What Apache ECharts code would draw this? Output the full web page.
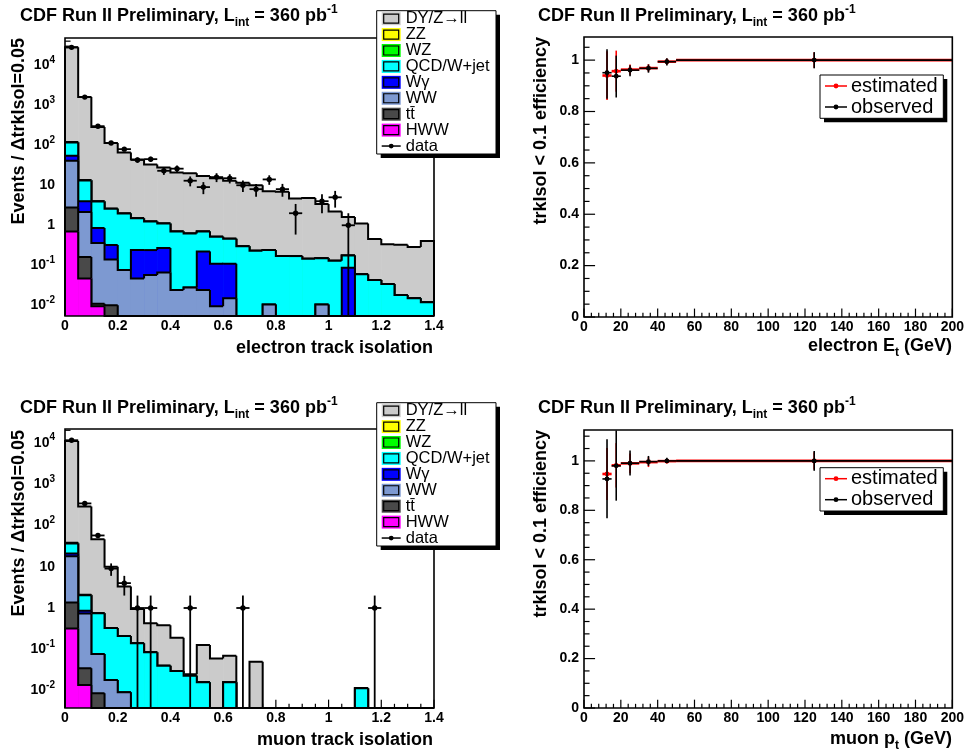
<!DOCTYPE html>
<html>
<head>
<meta charset="utf-8">
<title>CDF Run II track isolation</title>
<script src="https://cdn.jsdelivr.net/npm/echarts@6.0.0/dist/echarts.min.js"></script>
<style>
  html, body { margin: 0; padding: 0; background: #ffffff; }
  #chart { width: 967px; height: 756px; }
</style>
</head>
<body>
<div id="chart"></div>
<script>
const FONT = "'Liberation Sans', Arial, Helvetica, sans-serif";

// ---------- binning ----------
const isoEdges = [0, 0.05, 0.1, 0.15, 0.2, 0.25, 0.3, 0.35, 0.4, 0.45, 0.5, 0.55, 0.6, 0.65, 0.7,
  0.75, 0.8, 0.85, 0.9, 0.95, 1.0, 1.05, 1.1, 1.15, 1.2, 1.25, 1.3, 1.35, 1.4];
const etEdges = [10, 15, 20, 30, 40, 50, 200];

// ---------- stacked processes, bottom of the stack first ----------
const processNames  = ['HWW', 'tt\u0304', 'WW', 'W\u03b3', 'QCD/W+jet', 'WZ', 'ZZ', 'DY/Z\u2192ll'];
const processColors = ['#ff00ff', '#494949', '#7d99d1', '#0000ff', '#00ffff', '#00ff00', '#ffff00', '#cbcbcb'];

// electron track isolation: expected events per bin
const eleHWW = [0.70, 0.047, 0.0094, 0, 0, 0, 0, 0, 0, 0, 0, 0, 0, 0, 0, 0, 0, 0, 0, 0, 0, 0, 0, 0, 0, 0, 0, 0];
const eleTT  = [2.1, 0.113, 0.0016, 0.010, 0, 0, 0, 0, 0, 0, 0, 0, 0, 0, 0, 0, 0, 0, 0, 0, 0, 0, 0, 0, 0, 0, 0, 0];
const eleWW  = [38.2, 2.0, 0.349, 0.13, 0.076, 0.047, 0.057, 0.066, 0.024, 0.028, 0.024, 0.0094, 0.015, 0,
  0, 0.0104, 0, 0, 0, 0.0104, 0, 0, 0, 0, 0, 0, 0, 0];
const eleWgamma = [14, 1.84, 0.50, 0.18, 0, 0.193, 0.183, 0.204, 0, 0, 0.196, 0.10, 0.095, 0,
  0, 0, 0, 0, 0, 0, 0, 0.087, 0, 0, 0, 0, 0, 0];
const eleQCD = [62, 9.2, 3.05, 2.28, 1.884, 1.26, 1.01, 0.83, 0.676, 0.592, 0.48, 0.41, 0.35, 0.30,
  0.23, 0.23, 0.17, 0.17, 0.145, 0.14, 0.13, 0.088, 0.06, 0.043, 0.034, 0.018, 0.015, 0.012];
const eleWZ  = [1.2, 0.1, 0.04, 0, 0, 0, 0, 0, 0, 0, 0, 0, 0, 0, 0, 0, 0, 0, 0, 0, 0, 0, 0, 0, 0, 0, 0, 0];
const eleZZ  = [1.8, 0.2, 0.05, 0, 0, 0, 0, 0, 0, 0, 0, 0, 0, 0, 0, 0, 0, 0, 0, 0, 0, 0, 0, 0, 0, 0, 0, 0];
const eleDY  = [27880, 1586, 281, 111.4, 64, 42.5, 31.8, 26.9, 20.3, 19.4, 16.3, 14.5, 12.5, 11.2,
  9.77, 6.86, 6.73, 4.53, 4.66, 3.25, 2.07, 1.43, 1.04, 0.41, 0.30, 0.31, 0.27, 0.39];
const eleData = [28000, 1600, 300, 114, 80, 43, 45, 23, 26, 13, 9, 16, 15, 10,
  8, 14, 8, 2, 0, 4, 5, 1, 0, 0, 0, 0, 0, 0];

// muon track isolation: expected events per bin
const muHWW = [0.32, 0.0137, 0, 0, 0, 0, 0, 0, 0, 0, 0, 0, 0, 0, 0, 0, 0, 0, 0, 0, 0, 0, 0, 0, 0, 0, 0, 0];
const muTT  = [1.04, 0.0213, 0.0087, 0, 0, 0, 0, 0, 0, 0, 0, 0, 0, 0, 0, 0, 0, 0, 0, 0, 0, 0, 0, 0, 0, 0, 0, 0];
const muWW  = [16.6, 0.705, 0.068, 0.018, 0.0091, 0, 0, 0, 0, 0, 0, 0, 0, 0, 0, 0, 0, 0, 0, 0, 0, 0, 0, 0, 0, 0, 0, 0];
const muWgamma = [3.0, 0.12, 0, 0, 0, 0, 0, 0, 0, 0, 0, 0, 0, 0, 0, 0, 0, 0, 0, 0, 0, 0, 0, 0, 0, 0, 0, 0];
const muQCD = [15.5, 1.18, 0.673, 0.312, 0.201, 0.14, 0.085, 0.040, 0.030, 0.023, 0.016, 0, 0.016, 0,
  0, 0, 0, 0, 0, 0, 0, 0, 0.0114, 0, 0, 0, 0, 0];
const muWZ  = [0.7, 0.02, 0, 0, 0, 0, 0, 0, 0, 0, 0, 0, 0, 0, 0, 0, 0, 0, 0, 0, 0, 0, 0, 0, 0, 0, 0, 0];
const muZZ  = [0.8, 0.04, 0, 0, 0, 0, 0, 0, 0, 0, 0, 0, 0, 0, 0, 0, 0, 0, 0, 0, 0, 0, 0, 0, 0, 0, 0, 0];
const muDY  = [10962, 282.9, 45.25, 9.57, 3.09, 0.80, 0.345, 0.34, 0.16, 0.002, 0.111, 0.06, 0.054, 0,
  0.05, 0, 0, 0, 0, 0, 0, 0, 0, 0, 0, 0, 0, 0];
const muData = [11500, 340, 57, 9, 4, 1, 1, 0, 0, 1, 0, 0, 0, 1,
  0, 0, 0, 0, 0, 0, 0, 0, 0, 1, 0, 0, 0, 0];

// ---------- efficiency of trkIsol < 0.1 vs lepton transverse energy/momentum ----------
const eleEffEst    = [0.940, 0.957, 0.963, 0.969, 0.994, 1.0];
const eleEffEstErr = [0.095, 0.080, 0.020, 0.015, 0.012, 0.030];
const eleEffObs    = [0.951, 0.9375, 0.961, 0.968, 0.994, 1.0];
const eleEffObsLo  = [0.101, 0.083, 0.024, 0.017, 0.015, 0.032];
const eleEffObsHi  = [0.091, 0.080, 0.019, 0.015, 0.013, 0.031];

const muEffEst    = [0.947, 0.982, 0.990, 0.995, 0.999, 1.0];
const muEffEstErr = [0.105, 0.090, 0.040, 0.020, 0.010, 0.035];
const muEffObs    = [0.927, 0.980, 0.9905, 0.997, 1.0, 1.0];
const muEffObsLo  = [0.159, 0.141, 0.050, 0.017, 0.007, 0.040];
const muEffObsHi  = [0.161, 0.143, 0.052, 0.023, 0.013, 0.040];

// ---------- axis ranges and labels ----------
const eleYRange = [0.0054, 48000];
const muYRange  = [0.0038, 21500];
const isoXRange = [0, 1.4];
const etXRange  = [0, 200];
const eleEffYRange = [0, 1.09];
const muEffYRange  = [0, 1.125];

const titleText = 'CDF Run II Preliminary, L{sub|int} = 360 pb{sup|-1}';
const isoYTitle = 'Events / \u0394trkIsol=0.05';
const effYTitle = 'trkIsol < 0.1 efficiency';
const xTitles = ['electron track isolation', 'muon track isolation', 'electron E{sub|t} (GeV)', 'muon p{sub|t} (GeV)'];
const effLegend = ['estimated', 'observed'];

// ---------- layout ----------
const grids = [
  { left: 65,  top: 38,  width: 369, height: 278 },
  { left: 65,  top: 429, width: 369, height: 279 },
  { left: 584, top: 37,  width: 369, height: 280 },
  { left: 584, top: 430, width: 369, height: 278 }
];

const labelStyle = (margin) => ({
  margin, color: '#000', fontFamily: FONT, fontSize: 14, fontWeight: 'bold'
});
const hidden = { show: false };

function logLabel(v) {
  const e = Math.log10(v), r = Math.round(e);
  if (Math.abs(e - r) > 1e-6) return '';
  if (r === 0) return '1';
  if (r === 1) return '10';
  return '10{e|' + r + '}';
}
function effLabel(v) {
  const r = v / 0.2;
  if (Math.abs(r - Math.round(r)) > 1e-6) return '';
  return String(+v.toFixed(1));
}

const xAxis = [
  { type: 'value', gridIndex: 0, min: isoXRange[0], max: isoXRange[1], interval: 0.2 },
  { type: 'value', gridIndex: 1, min: isoXRange[0], max: isoXRange[1], interval: 0.2 },
  { type: 'value', gridIndex: 2, min: etXRange[0], max: etXRange[1], interval: 20 },
  { type: 'value', gridIndex: 3, min: etXRange[0], max: etXRange[1], interval: 20 }
].map(a => Object.assign(a, { axisLine: hidden, axisTick: hidden, splitLine: hidden, axisLabel: labelStyle(3) }));

const logRich = { e: { fontFamily: FONT, fontSize: 10, fontWeight: 'bold', color: '#000', verticalAlign: 'top', lineHeight: 9 } };
const yAxis = [
  { type: 'log', logBase: 10, gridIndex: 0, min: eleYRange[0], max: eleYRange[1],
    axisLabel: Object.assign(labelStyle(10), { formatter: logLabel, lineHeight: 20, rich: logRich }) },
  { type: 'log', logBase: 10, gridIndex: 1, min: muYRange[0], max: muYRange[1],
    axisLabel: Object.assign(labelStyle(10), { formatter: logLabel, lineHeight: 20, rich: logRich }) },
  { type: 'value', gridIndex: 2, min: eleEffYRange[0], max: eleEffYRange[1], interval: 0.2,
    axisLabel: Object.assign(labelStyle(5), { formatter: effLabel }) },
  { type: 'value', gridIndex: 3, min: muEffYRange[0], max: muEffYRange[1], interval: 0.2,
    axisLabel: Object.assign(labelStyle(5), { formatter: effLabel }) }
].map(a => Object.assign(a, { axisLine: hidden, axisTick: hidden, splitLine: hidden }));

// ---------- helpers ----------
function cumulate(layers) {
  const out = [];
  let run = layers[0].map(() => 0);
  layers.forEach(layer => { run = run.map((v, i) => v + layer[i]); out.push(run); });
  return out;
}

function linearTicks(min, max, minorStep, majorStep) {
  const out = [];
  const n = Math.floor((max - min) / minorStep + 1e-6);
  for (let i = 0; i <= n; i++) {
    const v = +(min + i * minorStep).toFixed(6);
    const r = v / majorStep;
    out.push([v, Math.abs(r - Math.round(r)) < 1e-6]);
  }
  return out;
}
function logTicks(min, max) {
  const out = [];
  for (let k = Math.floor(Math.log10(min)); k <= Math.ceil(Math.log10(max)); k++) {
    for (let m = 1; m <= 9; m++) {
      const v = m * Math.pow(10, k);
      if (v >= min && v <= max) out.push([v, m === 1]);
    }
  }
  return out;
}

// axis tick marks drawn inside the frame, below the histograms
function tickSeries(g, xr, yr, xTicks, yTicks) {
  const w = grids[g].width, h = grids[g].height;
  const data = [];
  xTicks.forEach(([v, major]) => data.push([v, yr[0], major ? 0.03 * h : 0.015 * h, 1]));
  yTicks.forEach(([v, major]) => data.push([xr[0], v, major ? 0.03 * w : 0.015 * w, 0]));
  return {
    type: 'custom', xAxisIndex: g, yAxisIndex: g, data, encode: { x: 0, y: 1 }, z: 1, silent: true,
    renderItem: (params, api) => {
      const p = api.coord([api.value(0), api.value(1)]);
      const len = api.value(2), vertical = api.value(3) === 1;
      return {
        type: 'line',
        shape: { x1: p[0], y1: p[1], x2: vertical ? p[0] : p[0] + len, y2: vertical ? p[1] - len : p[1] },
        style: { stroke: '#000', lineWidth: 1.2 }
      };
    }
  };
}

// frame box drawn over the plot contents
function frameSeries(g, xr, yr) {
  return {
    type: 'custom', xAxisIndex: g, yAxisIndex: g, data: [[xr[0], yr[0], xr[1], yr[1]]],
    encode: { x: [0, 2], y: [1, 3] }, z: 6, silent: true,
    renderItem: (params, api) => {
      const a = api.coord([api.value(0), api.value(3)]);
      const b = api.coord([api.value(2), api.value(1)]);
      return { type: 'rect', shape: { x: a[0], y: a[1], width: b[0] - a[0], height: b[1] - a[1] },
        style: { fill: 'none', stroke: '#000', lineWidth: 1.6 } };
    }
  };
}

// one cumulative stacked histogram: filled bins with a stepped outline
function histSeries(g, cumVals, color, ymin, z) {
  const last = cumVals.length - 1;
  const data = cumVals.map((v, i) => [
    isoEdges[i], isoEdges[i + 1],
    Math.max(v, ymin),
    i === 0 ? ymin : Math.max(cumVals[i - 1], ymin),
    v > ymin ? 1 : 0,
    i === last ? 1 : 0
  ]);
  return {
    type: 'custom', xAxisIndex: g, yAxisIndex: g, data, encode: { x: [0, 1], y: [2, 3] }, z, silent: true,
    renderItem: (params, api) => {
      const x0 = api.value(0), x1 = api.value(1), top = api.value(2), prev = api.value(3);
      const pL = api.coord([x0, top]), pR = api.coord([x1, top]), pP = api.coord([x0, prev]);
      const base = api.coord([x1, ymin]);
      const children = [];
      if (api.value(4) === 1) {
        children.push({ type: 'rect',
          shape: { x: pL[0], y: pL[1], width: pR[0] - pL[0] + 0.6, height: base[1] - pL[1] },
          style: { fill: color } });
      }
      const pts = [pP, pL, pR];
      if (api.value(5) === 1) pts.push(base);
      children.push({ type: 'polyline', shape: { points: pts },
        style: { stroke: '#000', lineWidth: 2, fill: 'none' } });
      return { type: 'group', children };
    }
  };
}

// observed counts with Poisson error bars and bin-width horizontal bars
function dataSeries(g, counts, ymin) {
  const data = [];
  counts.forEach((n, i) => {
    if (n <= 0) return;
    const s = Math.sqrt(n);
    data.push([(isoEdges[i] + isoEdges[i + 1]) / 2, n, Math.max(n - s, ymin), n + s, isoEdges[i], isoEdges[i + 1]]);
  });
  return {
    type: 'custom', xAxisIndex: g, yAxisIndex: g, data, encode: { x: [0, 4, 5], y: [1, 2, 3] }, z: 4, silent: true,
    renderItem: (params, api) => {
      const xc = api.value(0), y = api.value(1);
      const c = api.coord([xc, y]), lo = api.coord([xc, api.value(2)]), hi = api.coord([xc, api.value(3)]);
      const a = api.coord([api.value(4), y]), b = api.coord([api.value(5), y]);
      return { type: 'group', children: [
        { type: 'line', shape: { x1: lo[0], y1: lo[1], x2: hi[0], y2: hi[1] }, style: { stroke: '#000', lineWidth: 1.8 } },
        { type: 'line', shape: { x1: a[0], y1: a[1], x2: b[0], y2: b[1] }, style: { stroke: '#000', lineWidth: 1.8 } },
        { type: 'circle', shape: { cx: c[0], cy: c[1], r: 2.7 }, style: { fill: '#000' } }
      ] };
    }
  };
}

// efficiency points: bin-width bars, vertical error bars and a dot
function effSeries(g, vals, lo, hi, color, z, width) {
  const data = vals.map((v, i) => [etEdges[i], etEdges[i + 1], v, v - lo[i], v + hi[i]]);
  return {
    type: 'custom', xAxisIndex: g, yAxisIndex: g, data, encode: { x: [0, 1], y: [2, 3, 4] }, z, silent: true,
    renderItem: (params, api) => {
      const x0 = api.value(0), x1 = api.value(1), y = api.value(2), xc = (x0 + x1) / 2;
      const a = api.coord([x0, y]), b = api.coord([x1, y]), c = api.coord([xc, y]);
      const d = api.coord([xc, api.value(3)]), e = api.coord([xc, api.value(4)]);
      return { type: 'group', children: [
        { type: 'line', shape: { x1: a[0], y1: a[1], x2: b[0], y2: b[1] }, style: { stroke: color, lineWidth: width } },
        { type: 'line', shape: { x1: d[0], y1: d[1], x2: e[0], y2: e[1] }, style: { stroke: color, lineWidth: 1.6 } },
        { type: 'circle', shape: { cx: c[0], cy: c[1], r: 2.4 }, style: { fill: color } }
      ] };
    }
  };
}

// ---------- series ----------
const series = [];

series.push(tickSeries(0, isoXRange, eleYRange, linearTicks(0, 1.4, 0.05, 0.2), logTicks(eleYRange[0], eleYRange[1])));
series.push(tickSeries(1, isoXRange, muYRange, linearTicks(0, 1.4, 0.05, 0.2), logTicks(muYRange[0], muYRange[1])));
series.push(tickSeries(2, etXRange, eleEffYRange, linearTicks(0, 200, 4, 20), linearTicks(0, 1.09, 0.05, 0.2)));
series.push(tickSeries(3, etXRange, muEffYRange, linearTicks(0, 200, 4, 20), linearTicks(0, 1.125, 0.05, 0.2)));

const eleCum = cumulate([eleHWW, eleTT, eleWW, eleWgamma, eleQCD, eleWZ, eleZZ, eleDY]);
const muCum  = cumulate([muHWW, muTT, muWW, muWgamma, muQCD, muWZ, muZZ, muDY]);
for (let k = processNames.length - 1; k >= 0; k--) {
  const z = 2 + (processNames.length - 1 - k) * 0.01;
  series.push(histSeries(0, eleCum[k], processColors[k], eleYRange[0], z));
  series.push(histSeries(1, muCum[k], processColors[k], muYRange[0], z));
}
series.push(dataSeries(0, eleData, eleYRange[0]));
series.push(dataSeries(1, muData, muYRange[0]));

series.push(effSeries(2, eleEffEst, eleEffEstErr, eleEffEstErr, '#ff0000', 3, 2.6));
series.push(effSeries(2, eleEffObs, eleEffObsLo, eleEffObsHi, '#000000', 4, 1.6));
series.push(effSeries(3, muEffEst, muEffEstErr, muEffEstErr, '#ff0000', 3, 2.6));
series.push(effSeries(3, muEffObs, muEffObsLo, muEffObsHi, '#000000', 4, 1.6));

series.push(frameSeries(0, isoXRange, eleYRange));
series.push(frameSeries(1, isoXRange, muYRange));
series.push(frameSeries(2, etXRange, eleEffYRange));
series.push(frameSeries(3, etXRange, muEffYRange));

// ---------- texts and legends ----------
const rich = {
  sub: { fontFamily: FONT, fontSize: 12, fontWeight: 'bold', color: '#000', verticalAlign: 'bottom', lineHeight: 12 },
  sup: { fontFamily: FONT, fontSize: 12, fontWeight: 'bold', color: '#000', verticalAlign: 'top', lineHeight: 13 }
};
function boldText(text, x, y, align, rotation) {
  return {
    type: 'text', x, y, rotation: rotation || 0, z: 100, silent: true,
    style: { text, fill: '#000', fontFamily: FONT, fontSize: 18, fontWeight: 'bold', lineHeight: 25,
      align, verticalAlign: 'middle', rich }
  };
}

const graphics = [];
[[20, 16], [538, 16], [20, 408], [538, 408]].forEach(([x, y]) => graphics.push(boldText(titleText, x, y, 'left')));
graphics.push(boldText(xTitles[0], 433, 348, 'right'));
graphics.push(boldText(xTitles[1], 433, 740, 'right'));
graphics.push(boldText(xTitles[2], 952, 346, 'right'));
graphics.push(boldText(xTitles[3], 952, 739, 'right'));
graphics.push(boldText(isoYTitle, 19, 38, 'right', Math.PI / 2));
graphics.push(boldText(isoYTitle, 19, 430, 'right', Math.PI / 2));
graphics.push(boldText(effYTitle, 541, 37, 'right', Math.PI / 2));
graphics.push(boldText(effYTitle, 541, 430, 'right', Math.PI / 2));

function legendBox(left, top, w, h) {
  graphics.push({ type: 'rect', z: 100, silent: true, shape: { x: left + 4, y: top + 4, width: w, height: h }, style: { fill: '#000' } });
  graphics.push({ type: 'rect', z: 100, silent: true, shape: { x: left, y: top, width: w, height: h },
    style: { fill: '#fff', stroke: '#000', lineWidth: 1 } });
}
function legendText(text, x, y, size) {
  graphics.push({ type: 'text', x, y, z: 101, silent: true,
    style: { text, fill: '#000', fontFamily: FONT, fontSize: size, align: 'left', verticalAlign: 'middle' } });
}
function legendMarker(x0, x1, y, color) {
  graphics.push({ type: 'line', z: 101, silent: true, shape: { x1: x0, y1: y, x2: x1, y2: y }, style: { stroke: color, lineWidth: 1.5 } });
  graphics.push({ type: 'circle', z: 101, silent: true, shape: { cx: (x0 + x1) / 2, cy: y, r: 2.4 }, style: { fill: color } });
}

// stacked-process legend (upper left panel, then lower left panel)
[10.7, 402.7].forEach(top => {
  const left = 376.7, w = 119.3, h = 143.3;
  legendBox(left, top, w, h);
  const rows = processNames.length + 1;
  const rowH = h / rows;
  for (let r = 0; r < rows; r++) {
    const cy = top + rowH * (r + 0.5);
    if (r < processNames.length) {
      const k = processNames.length - 1 - r;
      graphics.push({ type: 'rect', z: 101, silent: true, shape: { x: left + 5, y: cy - 6.5, width: 19, height: 13 },
        style: { fill: processColors[k] } });
      graphics.push({ type: 'rect', z: 101, silent: true, shape: { x: left + 7, y: cy - 4.5, width: 15, height: 9 },
        style: { fill: processColors[k], stroke: '#000', lineWidth: 1.2 } });
      legendText(processNames[k], left + 29, cy, 16.5);
    } else {
      legendMarker(left + 5, left + 24, cy, '#000');
      legendText('data', left + 29, cy, 16.5);
    }
  }
});

// efficiency legend (upper right panel, then lower right panel)
[75, 467.7].forEach(top => {
  const left = 820, w = 123.3, h = 43.3;
  legendBox(left, top, w, h);
  legendMarker(left + 5, left + 27, top + 11, '#ff0000');
  legendText(effLegend[0], left + 31, top + 11, 20);
  legendMarker(left + 5, left + 27, top + 32, '#000000');
  legendText(effLegend[1], left + 31, top + 32, 20);
});

const chart = echarts.init(document.getElementById('chart'), null, { renderer: 'canvas' });
chart.setOption({
  animation: false,
  backgroundColor: '#ffffff',
  grid: grids,
  xAxis,
  yAxis,
  series,
  graphic: graphics
});
</script>
</body>
</html>
